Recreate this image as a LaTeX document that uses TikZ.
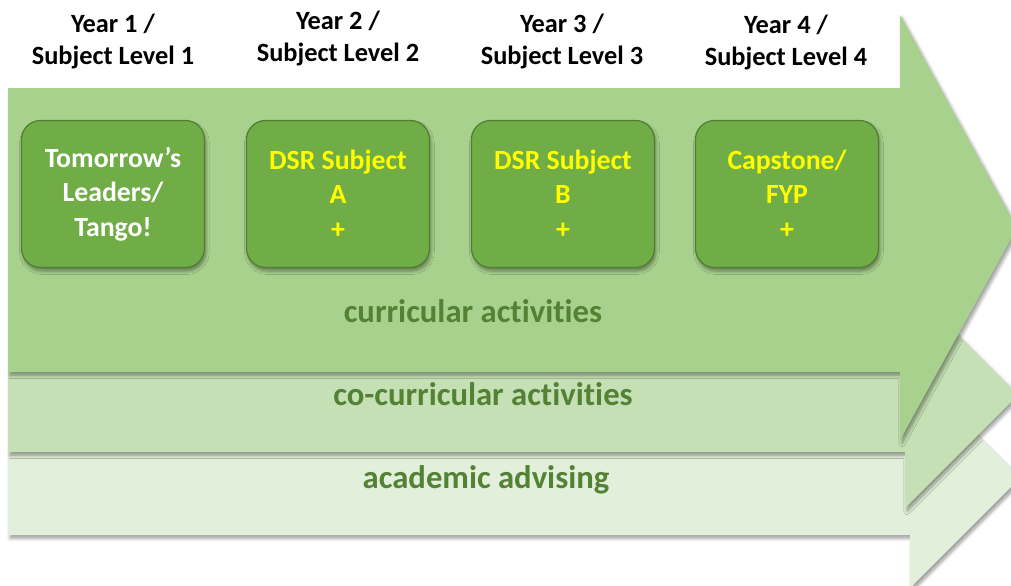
\documentclass[tikz,border=0pt]{standalone}
\usepackage{fontspec}
\setmainfont{Carlito}[Ligatures={TeX,NoCommon,NoContextual}, RawFeature={-calt}]
\usetikzlibrary{shadows.blur}

\definecolor{bandA}{HTML}{A9D18E}
\definecolor{bandB}{HTML}{C5E0B4}
\definecolor{bandC}{HTML}{E2EFDA}
\definecolor{boxfill}{HTML}{70AD47}
\definecolor{boxline}{HTML}{507E32}
\definecolor{lbltext}{HTML}{548235}
\definecolor{hilite}{HTML}{FFFF00}

\begin{document}
\begin{tikzpicture}[x=0.02cm, y=-0.02cm,
  band/.style={blur shadow={shadow xshift=1.2pt, shadow yshift=-1.8pt, shadow blur steps=6, shadow opacity=40}},
  yearbox/.style={draw=boxline, line width=0.7pt, fill=boxfill, rounded corners=0.38cm,
    minimum width=3.66cm, minimum height=2.94cm, align=center, font=\fontsize{15.8}{19.6}\selectfont\bfseries,
    blur shadow={shadow xshift=0.8pt, shadow yshift=-2pt, shadow blur steps=5, shadow opacity=40}},
  yearhead/.style={align=center, font=\fontsize{15}{18.2}\selectfont\bfseries},
  lbl/.style={text=lbltext, font=\fontsize{18.6}{22}\selectfont\bfseries}]
\useasboundingbox (0,0) rectangle (1011,585);

% the three bands, back to front
\fill[bandC, band] (8,452) -- (910,452) -- (910,368) -- (1020,478) -- (910,588) -- (910,535) -- (8,535) -- cycle;
\fill[bandB, band] (8,372) -- (905,372) -- (905,282) -- (1018,395) -- (905,508) -- (905,452) -- (8,452) -- cycle;
\fill[bandA, band] (8,88) -- (900,88) -- (900,15) -- (1017,228) -- (900,440) -- (900,372) -- (8,372) -- cycle;

% year headings
\foreach \n/\x/\y in {1/113/41, 2/338/38, 3/562/41, 4/786/42}
  \node[yearhead] (yr\n) at (\x,\y) {Year \n~/\\Subject Level \n};

% one box per year
\node[yearbox, text=white] (tl) at (113,194) {Tomorrow’s\\Leaders/\\Tango!};
\node[yearbox, text=hilite] (dsra) at (338,194) {DSR Subject\\A\\+};
\node[yearbox, text=hilite] (dsrb) at (563,194) {DSR Subject\\B\\+};
\node[yearbox, text=hilite] (fyp) at (787,194) {Capstone/\\FYP\\+};

% band labels
\node[lbl] (curr) at (473,311) {curricular activities};
\node[lbl] (cocurr) at (483,394) {co-curricular activities};
\node[lbl] (advise) at (486,480) {academic advising};
\end{tikzpicture}
\end{document}
